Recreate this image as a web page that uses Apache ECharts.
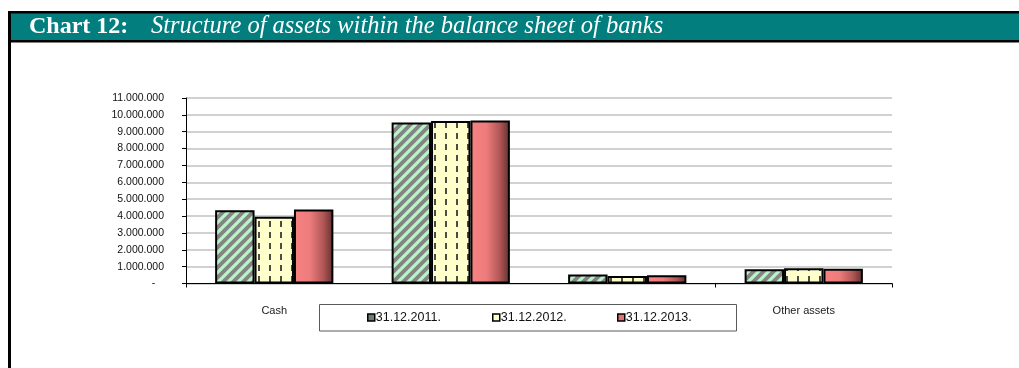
<!DOCTYPE html>
<html>
<head>
<meta charset="utf-8">
<script src="https://cdn.jsdelivr.net/npm/echarts@6/dist/echarts.min.js"></script>
<style>
  html, body { margin: 0; padding: 0; background: #fff; }
  #chart { width: 1019px; height: 368px; }
</style>
</head>
<body>
<div id="chart"></div>
<script>
// Balance sheet asset structure, in thousands
const categories = ['Cash', 'Loans', 'Securities', 'Other assets'];
const seriesNames = ['31.12.2011.', '31.12.2012.', '31.12.2013.'];
const values2011 = [4350000, 9550000, 540000, 840000];
const values2012 = [3960000, 9630000, 450000, 900000];
const values2013 = [4390000, 9670000, 490000, 880000];
const yTicks = { min: 0, max: 11000000, step: 1000000 };

// Fill patterns for the bars
function diagonalStripes() {
  const c = document.createElement('canvas');
  c.width = 10; c.height = 10;
  const g = c.getContext('2d');
  g.fillStyle = '#848484';
  g.fillRect(0, 0, 10, 10);
  g.strokeStyle = '#B6F5C6';
  g.lineWidth = 3.2;
  g.beginPath();
  g.moveTo(-5, 5); g.lineTo(5, -5);
  g.moveTo(0, 10); g.lineTo(10, 0);
  g.moveTo(5, 15); g.lineTo(15, 5);
  g.stroke();
  return c;
}
function verticalDashes() {
  const c = document.createElement('canvas');
  c.width = 11; c.height = 11;
  const g = c.getContext('2d');
  g.fillStyle = '#FFFFCC';
  g.fillRect(0, 0, 11, 11);
  g.fillStyle = '#4C4C44';
  g.fillRect(5, 1, 2, 6);
  return c;
}

const fills = [
  { image: diagonalStripes(), repeat: 'repeat' },
  { image: verticalDashes(), repeat: 'repeat' },
  {
    type: 'linear', x: 0, y: 0, x2: 1, y2: 0,
    colorStops: [
      { offset: 0, color: '#F88282' },
      { offset: 0.4, color: '#EE7C7C' },
      { offset: 0.75, color: '#B05656' },
      { offset: 1, color: '#5E2E2E' }
    ]
  }
];
const legendColors = ['#6F7D71', '#FFFFCC', '#E07272'];
const legendLeft = [367, 492, 617];

function fmtThousands(v) {
  if (v === 0) return '-   ';
  return String(v).replace(/\B(?=(\d{3})+(?!\d))/g, '.');
}

const valueSets = [values2011, values2012, values2013];

const chart = echarts.init(document.getElementById('chart'), null, { renderer: 'canvas' });

chart.setOption({
  animation: false,
  backgroundColor: '#ffffff',
  textStyle: { fontFamily: '"Liberation Sans", Arial, sans-serif' },
  grid: { left: 186, right: 127, top: 98, bottom: 84.5, containLabel: false },
  xAxis: {
    type: 'category',
    data: categories,
    axisLine: { lineStyle: { color: '#000', width: 1 } },
    axisTick: { show: true, length: 4, lineStyle: { color: '#000' } },
    axisLabel: {
      margin: 22,
      fontSize: 11,
      color: '#1a1a1a',
      interval: (i) => i === 0 || i === categories.length - 1
    },
    splitLine: { show: false }
  },
  yAxis: {
    type: 'value',
    min: yTicks.min,
    max: yTicks.max,
    interval: yTicks.step,
    axisLine: { show: true, lineStyle: { color: '#000', width: 1 } },
    axisTick: { show: true, length: 4, lineStyle: { color: '#000' } },
    axisLabel: {
      margin: 22,
      fontSize: 10.5,
      color: '#111',
      formatter: fmtThousands
    },
    splitLine: { show: true, lineStyle: { color: '#C2C2C2', width: 1.6 } }
  },
  legend: seriesNames.map((name, i) => ({
    data: [{ name, itemStyle: { color: legendColors[i], borderColor: '#000', borderWidth: 1.5 } }],
    left: legendLeft[i],
    top: 311,
    padding: 0,
    z: 20,
    icon: 'rect',
    itemWidth: 7,
    itemHeight: 7,
    selectedMode: false,
    textStyle: { fontSize: 12.5, color: '#111', padding: [0, 0, 0, -4] }
  })),
  graphic: [
    // title band
    { type: 'rect', shape: { x: 8, y: 11, width: 1011, height: 31.5 }, style: { fill: '#000' }, z: 1 },
    { type: 'rect', shape: { x: 11, y: 13.5, width: 1008, height: 26.5 }, style: { fill: '#027E7E' }, z: 2 },
    // left frame edge
    { type: 'rect', shape: { x: 8, y: 11, width: 3, height: 357 }, style: { fill: '#000' }, z: 2 },
    {
      type: 'text', x: 29, y: 27, z: 3,
      style: {
        text: 'Chart 12:', fill: '#fff',
        font: 'bold 24px "Liberation Serif", "Times New Roman", serif',
        verticalAlign: 'middle'
      }
    },
    {
      type: 'text', x: 151, y: 27, z: 3,
      style: {
        text: 'Structure of assets within the balance sheet of banks', fill: '#fff',
        font: 'italic 24.5px "Liberation Serif", "Times New Roman", serif',
        verticalAlign: 'middle'
      }
    },
    // legend box
    {
      type: 'rect', z: 10,
      shape: { x: 319.5, y: 304.5, width: 417, height: 26.5 },
      style: { fill: '#fff', stroke: '#5a5a5a', lineWidth: 1 }
    }
  ],
  series: seriesNames.map((name, i) => ({
    name,
    type: 'bar',
    data: valueSets[i],
    barGap: '0%',
    barCategoryGap: '33%',
    itemStyle: { color: fills[i], borderColor: '#000', borderWidth: 2 },
    emphasis: { disabled: true }
  }))
});
</script>
</body>
</html>
